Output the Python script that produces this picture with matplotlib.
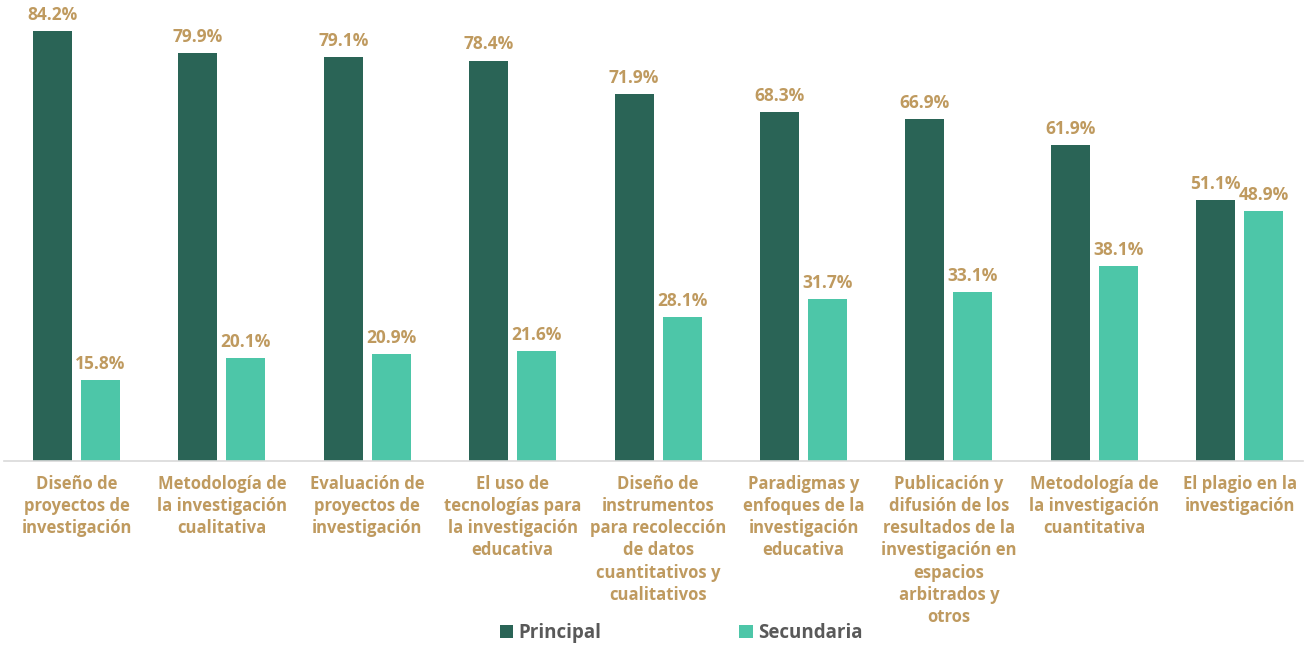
import matplotlib.pyplot as plt
import numpy as np

categorias = [
    "Diseño de\nproyectos de\ninvestigación",
    "Metodología de\nla investigación\ncualitativa",
    "Evaluación de\nproyectos de\ninvestigación",
    "El uso de\ntecnologías para\nla investigación\neducativa",
    "Diseño de\ninstrumentos\npara recolección\nde datos\ncuantitativos y\ncualitativos",
    "Paradigmas y\nenfoques de la\ninvestigación\neducativa",
    "Publicación y\ndifusión de los\nresultados de la\ninvestigación en\nespacios\narbitrados y\notros",
    "Metodología de\nla investigación\ncuantitativa",
    "El plagio en la\ninvestigación",
]
principal = [84.2, 79.9, 79.1, 78.4, 71.9, 68.3, 66.9, 61.9, 51.1]
secundaria = [15.8, 20.1, 20.9, 21.6, 28.1, 31.7, 33.1, 38.1, 48.9]

oscuro = '#2A6456'
claro = '#4DC6A8'
dorado = '#BF9A5F'
gris = '#595959'

plt.rcParams['font.family'] = ['Open Sans', 'DejaVu Sans']

fig = plt.figure(figsize=(13.07, 6.47), dpi=100)
ax = fig.add_axes([4 / 1307, 1 - 461 / 647, 1299 / 1307, 461 / 647])

x = np.arange(len(categorias))
w = 0.268
off = 0.165
b1 = ax.bar(x - off, principal, w, color=oscuro, label='Principal')
b2 = ax.bar(x + off, secundaria, w, color=claro, label='Secundaria')

for barras, vals in ((b1, principal), (b2, secundaria)):
    for r, v in zip(barras, vals):
        ax.text(r.get_x() + r.get_width() / 2, v + 1.4, f"{v}%", ha='center',
                va='bottom', color=dorado, fontsize=12.5, fontweight='bold')

ax.set_xlim(-0.4986, 8.435)
ax.set_ylim(0, 84.2 * 461 / 430)
ax.set_xticks(x)
ax.set_xticklabels(categorias, color=dorado, fontsize=12, fontweight='bold',
                   linespacing=1.3, va='top')
ax.tick_params(axis='x', length=0, pad=10)
ax.set_yticks([])
for s in ['top', 'right', 'left']:
    ax.spines[s].set_visible(False)
ax.spines['bottom'].set_color('#D9D9D9')
ax.spines['bottom'].set_linewidth(1.2)

leg = fig.legend(handles=[b1, b2], loc='center', bbox_to_anchor=(0.5213, 1 - 633 / 647),
                 ncol=2, frameon=False, handlelength=0.7, handleheight=0.7,
                 handletextpad=0.3, columnspacing=7.35,
                 prop={'weight': 'bold', 'size': 13.5})
for t in leg.get_texts():
    t.set_color(gris)

fig.savefig('out.png', dpi=100)
